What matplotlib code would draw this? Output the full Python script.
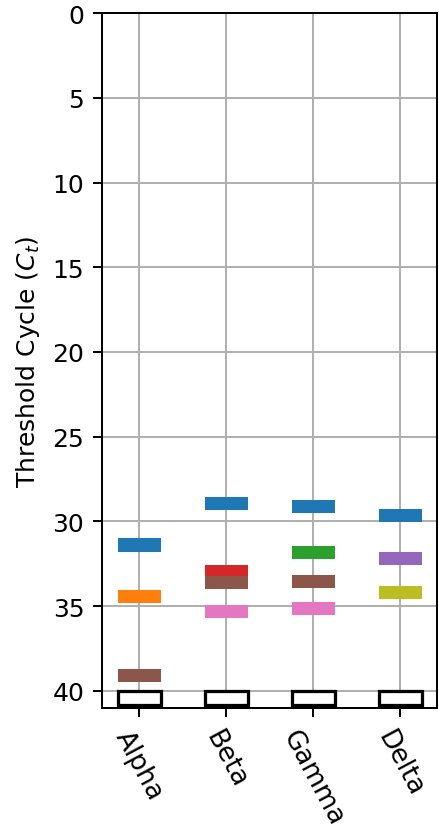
import matplotlib
matplotlib.use("Agg")
import matplotlib.pyplot as plt

# samples on the x axis
samples = ["Alpha", "Beta", "Gamma", "Delta"]

# detected targets: (sample index, Ct where the mark starts, colour)
det_sample = [0, 0, 0, 1, 1, 1, 1, 2, 2, 2, 2, 3, 3, 3]
det_ct = [31.0, 34.05, 38.72, 28.57, 32.6, 33.23, 34.93,
          28.71, 31.43, 33.14, 34.73, 29.28, 31.8, 33.8]
det_color = ["C0", "C1", "C5", "C0", "C3", "C5", "C6",
             "C0", "C2", "C5", "C6", "C0", "C4", "C8"]

# not detected -> open box at the end of the run
nd_ct = 40
max_cycles = 41

fig = plt.figure(figsize=(439 / 180, 829 / 180), dpi=180)
ax = fig.add_axes([0.232, 0.145, 0.763, 0.838])

ax.bar(det_sample, [0.78] * len(det_ct), bottom=det_ct, width=0.5,
       color=det_color, zorder=2)
ax.bar(range(len(samples)), [0.85] * len(samples), bottom=nd_ct, width=0.5,
       facecolor="white", edgecolor="black", linewidth=1.3, zorder=3)

ax.set_ylim(max_cycles, 0)
ax.set_xlim(-0.43, 3.42)
ax.set_yticks(range(0, 41, 5))
ax.set_xticks(range(len(samples)))
ax.set_xticklabels(samples, rotation=-62, fontsize=10.5)
ax.set_ylabel("Threshold Cycle ($C_t$)")
ax.grid(True)
ax.set_axisbelow(True)

fig.savefig("out.png", dpi=180)
